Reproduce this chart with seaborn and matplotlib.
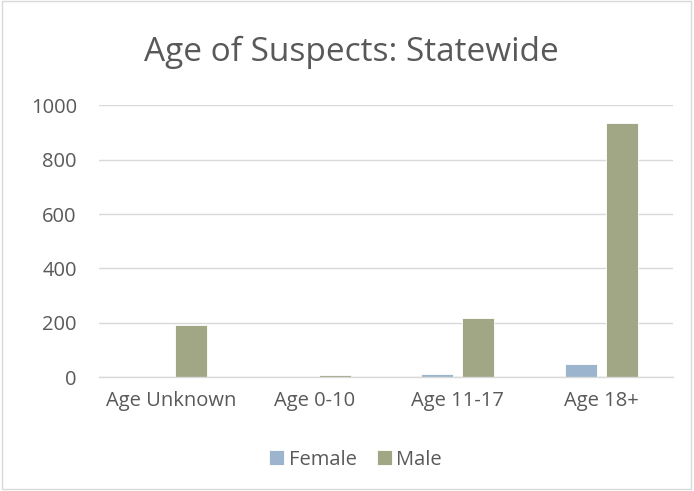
import matplotlib
matplotlib.use('Agg')
from matplotlib import pyplot as plt
from matplotlib.patches import Rectangle
import pandas as pd
import seaborn as sns

categories = ['Age Unknown', 'Age 0-10', 'Age 11-17', 'Age 18+']
female = [5, 0, 12, 49]
male = [192, 9, 219, 935]
yticks = [0, 200, 400, 600, 800, 1000]

df = pd.DataFrame({
    'Age': categories * 2,
    'Sex': ['Female'] * 4 + ['Male'] * 4,
    'Count': female + male,
})

sns.set_style('white')
plt.rcParams['font.family'] = ['Open Sans', 'DejaVu Sans']
text_color = '#595959'

fig = plt.figure(figsize=(6.94, 4.91), dpi=100)
ax = fig.add_axes([0.1427, 0.2316, 0.827, 0.554])

sns.barplot(data=df, x='Age', y='Count', hue='Sex',
            palette=['#94B4D5', '#A5AB80'], width=0.57, gap=0.22,
            edgecolor='white', linewidth=0.6, ax=ax)

ax.set_ylim(0, 1000)
ax.set_yticks(yticks)
ax.set_xlim(-0.5, 3.5)
ax.yaxis.grid(True, color='#D9D9D9', linewidth=1)
ax.set_axisbelow(True)
for s in ['top', 'right', 'left']:
    ax.spines[s].set_visible(False)
ax.spines['bottom'].set_color('#D9D9D9')
ax.spines['bottom'].set_linewidth(1)
ax.tick_params(axis='both', length=0, labelsize=14.5, colors=text_color)
ax.tick_params(axis='x', pad=10)
ax.tick_params(axis='y', pad=16)
ax.set_xlabel('')
ax.set_ylabel('')

fig.text(0.507, 0.893, 'Age of Suspects: Statewide', ha='center', va='center',
         fontsize=24, color=text_color)

ax.legend(loc='center', bbox_to_anchor=(0.512, 0.064), bbox_transform=fig.transFigure,
          ncol=2, frameon=False, fontsize=14.5, handlelength=0.75, handleheight=0.75,
          handletextpad=0.2, columnspacing=1.0, labelcolor=text_color)

fig.patches.append(Rectangle((0.003, 0.004), 0.992, 0.994, transform=fig.transFigure,
                             fill=False, edgecolor='#D9D9D9', linewidth=1))

fig.savefig('out.png', dpi=100)
